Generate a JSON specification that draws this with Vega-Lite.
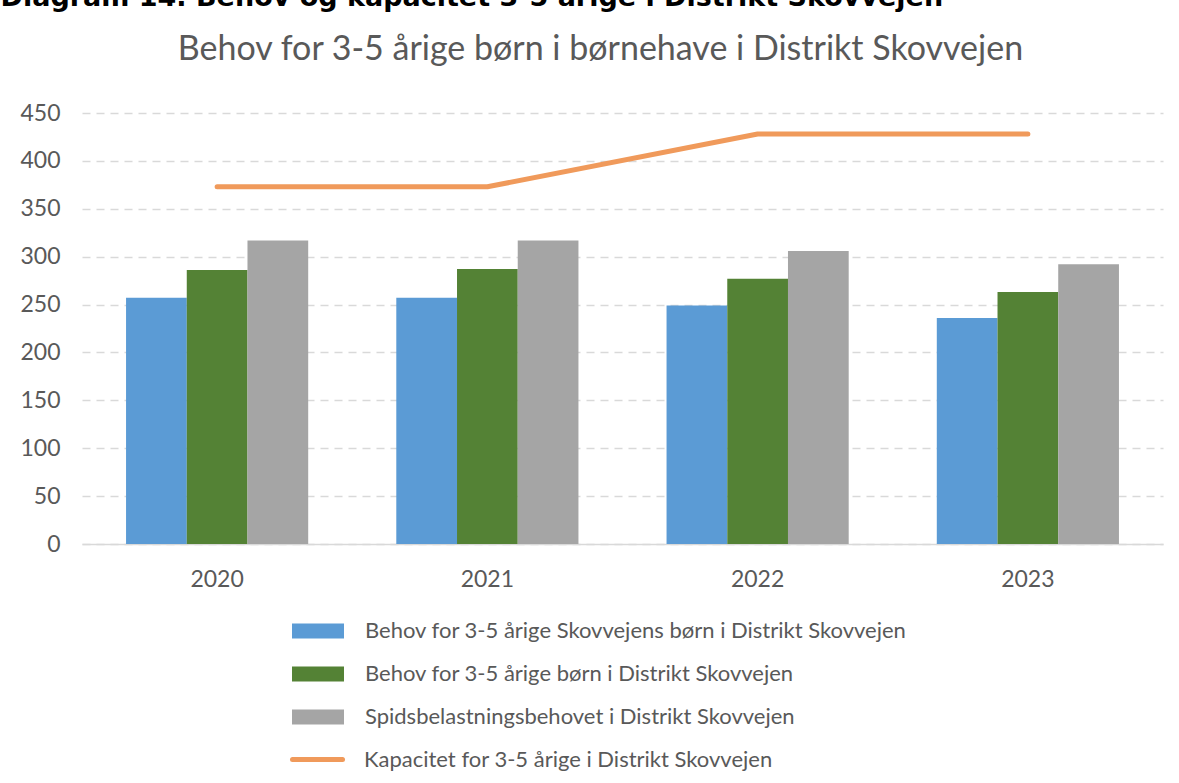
{
  "$schema": "https://vega.github.io/schema/vega-lite/v6.json",
  "autosize": {"type": "none"},
  "width": 1081,
  "height": 431,
  "padding": {"left": 82, "top": 113, "right": 16, "bottom": 239},
  "background": "white",
  "title": {
    "text": "Behov for 3-5 årige børn i børnehave i Distrikt Skovvejen",
    "font": "Lato",
    "fontSize": 34,
    "fontWeight": "normal",
    "color": "#595959",
    "anchor": "middle",
    "frame": "group",
    "baseline": "alphabetic",
    "dx": -22,
    "dy": 111,
    "offset": 0
  },
  "config": {
    "view": {"stroke": null},
    "axis": {"labelFont": "Lato", "labelFontSize": 23, "labelColor": "#595959"}
  },
  "datasets": {
    "bars": [
      {"year": "2020", "serie": "Behov for 3-5 årige Skovvejens børn i Distrikt Skovvejen", "value": 257},
      {"year": "2020", "serie": "Behov for 3-5 årige børn i Distrikt Skovvejen", "value": 286},
      {"year": "2020", "serie": "Spidsbelastningsbehovet i Distrikt Skovvejen", "value": 317},
      {"year": "2021", "serie": "Behov for 3-5 årige Skovvejens børn i Distrikt Skovvejen", "value": 257},
      {"year": "2021", "serie": "Behov for 3-5 årige børn i Distrikt Skovvejen", "value": 287},
      {"year": "2021", "serie": "Spidsbelastningsbehovet i Distrikt Skovvejen", "value": 317},
      {"year": "2022", "serie": "Behov for 3-5 årige Skovvejens børn i Distrikt Skovvejen", "value": 249},
      {"year": "2022", "serie": "Behov for 3-5 årige børn i Distrikt Skovvejen", "value": 277},
      {"year": "2022", "serie": "Spidsbelastningsbehovet i Distrikt Skovvejen", "value": 306},
      {"year": "2023", "serie": "Behov for 3-5 årige Skovvejens børn i Distrikt Skovvejen", "value": 236},
      {"year": "2023", "serie": "Behov for 3-5 årige børn i Distrikt Skovvejen", "value": 263},
      {"year": "2023", "serie": "Spidsbelastningsbehovet i Distrikt Skovvejen", "value": 292}
    ],
    "line": [
      {"year": "2020", "serie": "Kapacitet for 3-5 årige i Distrikt Skovvejen", "value": 373},
      {"year": "2021", "serie": "Kapacitet for 3-5 årige i Distrikt Skovvejen", "value": 373},
      {"year": "2022", "serie": "Kapacitet for 3-5 årige i Distrikt Skovvejen", "value": 428},
      {"year": "2023", "serie": "Kapacitet for 3-5 årige i Distrikt Skovvejen", "value": 428}
    ]
  },
  "layer": [
    {
      "data": {"name": "bars"},
      "mark": {"type": "bar"},
      "encoding": {
        "x": {
          "field": "year",
          "type": "ordinal",
          "scale": {"paddingInner": 0.326, "paddingOuter": 0.163},
          "axis": {
            "title": null,
            "labelAngle": 0,
            "ticks": false,
            "domainColor": "#D9D9D9",
            "domainWidth": 1.5,
            "labelPadding": 24,
            "grid": false
          }
        },
        "xOffset": {
          "field": "serie",
          "type": "nominal",
          "sort": [
            "Behov for 3-5 årige Skovvejens børn i Distrikt Skovvejen",
            "Behov for 3-5 årige børn i Distrikt Skovvejen",
            "Spidsbelastningsbehovet i Distrikt Skovvejen"
          ],
          "scale": {"paddingInner": 0, "paddingOuter": 0}
        },
        "y": {
          "field": "value",
          "type": "quantitative",
          "scale": {"domain": [0, 450], "nice": false},
          "axis": {
            "values": [0, 50, 100, 150, 200, 250, 300, 350, 400, 450],
            "domain": false,
            "ticks": false,
            "labelPadding": 22,
            "gridColor": "#D9D9D9",
            "gridWidth": 1.5,
            "gridDash": [8, 6],
            "title": "Diagram 14. Behov og kapacitet 3-5 årige i Distrikt Skovvejen",
            "titleAngle": 0,
            "titleX": -82,
            "titleY": -108,
            "titleAlign": "left",
            "titleBaseline": "alphabetic",
            "titleFont": "DejaVu Sans",
            "titleFontWeight": "bold",
            "titleFontSize": 27,
            "titleColor": "black"
          }
        },
        "color": {
          "field": "serie",
          "type": "nominal",
          "sort": [
            "Behov for 3-5 årige Skovvejens børn i Distrikt Skovvejen",
            "Behov for 3-5 årige børn i Distrikt Skovvejen",
            "Spidsbelastningsbehovet i Distrikt Skovvejen"
          ],
          "scale": {
            "domain": [
              "Behov for 3-5 årige Skovvejens børn i Distrikt Skovvejen",
              "Behov for 3-5 årige børn i Distrikt Skovvejen",
              "Spidsbelastningsbehovet i Distrikt Skovvejen"
            ],
            "range": ["#5B9BD5", "#548235", "#A5A5A5"]
          },
          "legend": {
            "orient": "none",
            "legendX": 210,
            "legendY": 492,
            "title": null,
            "symbolType": "M-1,-0.29H1V0.29H-1Z",
            "symbolSize": 2704,
            "symbolStrokeWidth": 0,
            "symbolOpacity": 1,
            "labelFont": "Lato",
            "labelFontSize": 22,
            "labelColor": "#595959",
            "labelOffset": 21,
            "labelLimit": 800,
            "rowPadding": 6,
            "padding": 0
          }
        }
      }
    },
    {
      "data": {"name": "line"},
      "mark": {"type": "line", "strokeWidth": 5, "strokeCap": "round", "strokeJoin": "round"},
      "encoding": {
        "x": {"field": "year", "type": "ordinal"},
        "y": {"field": "value", "type": "quantitative"},
        "stroke": {
          "field": "serie",
          "type": "nominal",
          "scale": {"domain": ["Kapacitet for 3-5 årige i Distrikt Skovvejen"], "range": ["#F09A5B"]},
          "legend": {
            "orient": "none",
            "legendX": 208,
            "legendY": 619,
            "title": null,
            "symbolType": "stroke",
            "symbolSize": 2500,
            "symbolStrokeWidth": 5,
            "labelFont": "Lato",
            "labelFontSize": 22,
            "labelColor": "#595959",
            "labelOffset": 19,
            "labelLimit": 800,
            "padding": 0,
            "encode": {"symbols": {"update": {"strokeCap": {"value": "round"}}}}
          }
        }
      }
    }
  ]
}
